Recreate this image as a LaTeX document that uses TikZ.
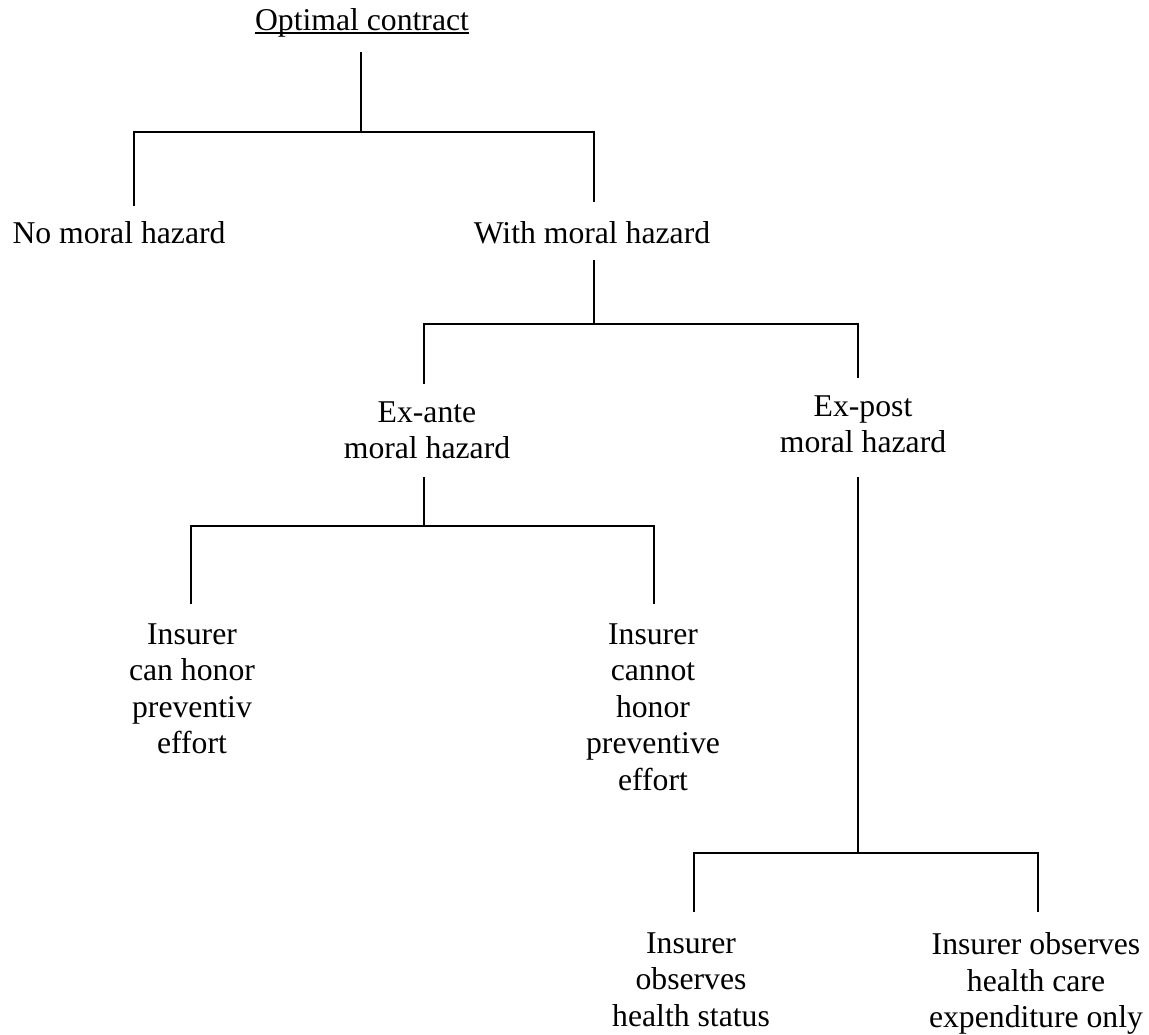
\documentclass[tikz,border=0pt]{standalone}
\usepackage{fontspec}
\setmainfont{Liberation Serif}
\begin{document}
\begin{tikzpicture}[x=0.5pt,y=-0.5pt,
  lbl/.style={inner sep=0pt, align=center, font=\fontsize{15.85pt}{18.3pt}\selectfont},
  conn/.style={line width=0.85pt}]
\useasboundingbox (0,0) rectangle (1149,1034);
% labels
\node[lbl, anchor=base] (title) at (362,30) {Optimal contract};
\draw[line width=0.6pt] ([yshift=-1.5pt]title.base west) -- ([yshift=-1.5pt]title.base east);
\node[lbl, anchor=base] (nomh) at (119,243) {No moral hazard};
\node[lbl, anchor=base] (withmh) at (592,243) {With moral hazard};
\node[lbl, anchor=north] (exante) at (427,401) {Ex-ante\\moral hazard};
\node[lbl, anchor=north] (expost) at (863,395) {Ex-post\\moral hazard};
\node[lbl, anchor=north] (can) at (192,623) {Insurer\\can honor\\preventiv\\effort};
\node[lbl, anchor=north] (cannot) at (653,623) {Insurer\\cannot\\honor\\preventive\\effort};
\node[lbl, anchor=north] (status) at (691,932) {Insurer\\observes\\health status};
\node[lbl, anchor=north] (expend) at (1036,932) {Insurer observes\\health care\\expenditure only};
% connector points
\coordinate (t0) at (361,52);   \coordinate (t1) at (361,132);
\coordinate (a0) at (134,132);  \coordinate (a1) at (134,206);
\coordinate (b0) at (594,132);  \coordinate (b1) at (594,202);
\coordinate (w0) at (594,260);  \coordinate (w1) at (594,324);
\coordinate (c0) at (424,324);  \coordinate (c1) at (424,384);
\coordinate (d0) at (858,324);  \coordinate (d1) at (858,378);
\coordinate (e0) at (424,477);  \coordinate (e1) at (424,526);
\coordinate (f0) at (191,526);  \coordinate (f1) at (191,604);
\coordinate (g0) at (654,526);  \coordinate (g1) at (654,604);
\coordinate (p0) at (858,477);  \coordinate (p1) at (858,853);
\coordinate (h0) at (694,853);  \coordinate (h1) at (694,912);
\coordinate (k0) at (1038,853); \coordinate (k1) at (1038,912);
% connectors
\draw[conn] (t0) -- (t1);
\draw[conn] (a1) -- (a0) -- (b0) -- (b1);
\draw[conn] (w0) -- (w1);
\draw[conn] (c1) -- (c0) -- (d0) -- (d1);
\draw[conn] (e0) -- (e1);
\draw[conn] (f1) -- (f0) -- (g0) -- (g1);
\draw[conn] (p0) -- (p1);
\draw[conn] (h1) -- (h0) -- (k0) -- (k1);
\end{tikzpicture}
\end{document}
